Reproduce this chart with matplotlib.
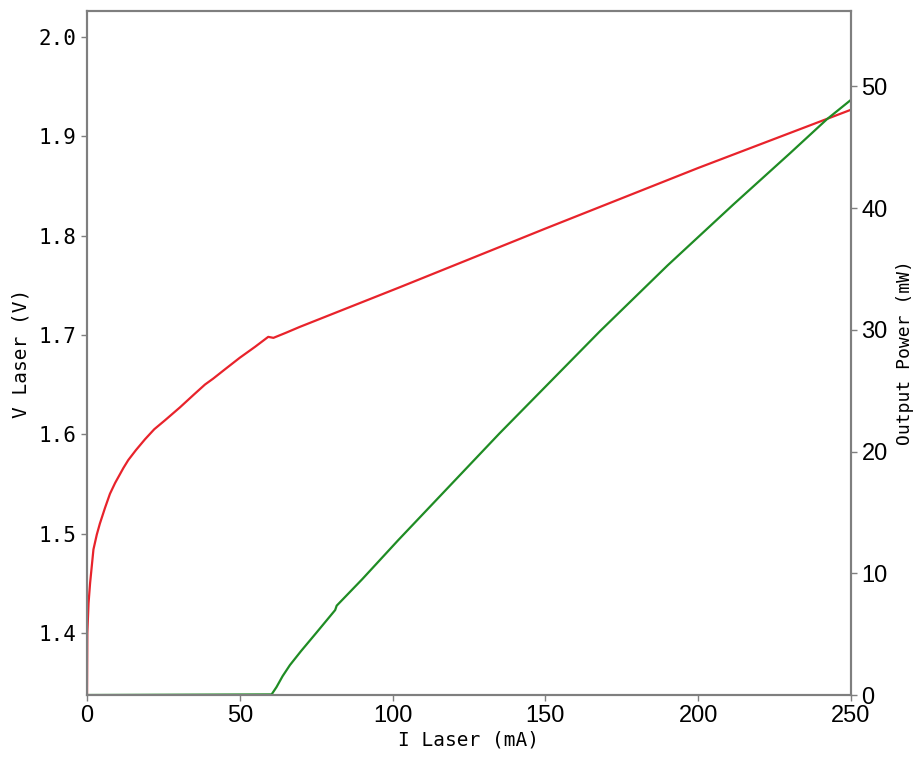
import matplotlib.pyplot as plt
from matplotlib import font_manager

# data
i_v = [0, 0.1, 0.5, 1.0, 2.1, 3.2, 4.2, 5.9, 7.5, 9.2, 11.9, 13.5, 16, 19.0,
       22, 25.5, 30.4, 35, 38.6, 41.3, 45, 50, 55, 59.3, 61, 65, 69.6,
       102.4, 150, 200, 250]
v_laser = [1.338, 1.40, 1.43, 1.45, 1.484, 1.499, 1.510, 1.526, 1.540, 1.551,
           1.566, 1.574, 1.584, 1.595, 1.605, 1.614, 1.627, 1.640, 1.650,
           1.656, 1.665, 1.677, 1.688, 1.698, 1.697, 1.702, 1.708,
           1.748, 1.807, 1.868, 1.9266]

i_p = [0, 60.4, 62, 64, 66.4, 70, 75, 81.2, 81.7, 90, 101.9, 135, 167.9, 190,
       211.5, 230, 242.1, 250]
p_out = [0, 0.05, 0.65, 1.55, 2.46, 3.6, 5.1, 6.98, 7.34, 9.5, 12.74, 21.5,
         29.9, 35.3, 40.3, 44.5, 47.3, 48.9]

v_ticks = [1.4, 1.5, 1.6, 1.7, 1.8, 1.9, 2.0]
p_ticks = [0, 10, 20, 30, 40, 50]
i_ticks = [0, 50, 100, 150, 200, 250]

names = {f.name for f in font_manager.fontManager.ttflist}
narrow = 'Liberation Sans Narrow' if 'Liberation Sans Narrow' in names else 'Liberation Sans'
mono = 'DejaVu Sans Mono'
spine_col = '#7f7f7f'

fig = plt.figure(figsize=(9.17, 7.63), dpi=100)
ax = fig.add_axes([0.0949, 0.0891, 0.8331, 0.8965])
ax2 = ax.twinx()

ax.plot(i_v, v_laser, color='#e8232b', lw=1.6)
ax2.plot(i_p, p_out, color='#1f8c24', lw=1.6)

ax.set_xlim(0, 250)
ax.set_ylim(1.3375, 2.026)
ax2.set_ylim(0, 56.2)

ax.set_xticks(i_ticks)
ax.set_yticks(v_ticks)
ax2.set_yticks(p_ticks)
ax.set_yticklabels([f'{v:.1f}' for v in v_ticks], family=mono, fontsize=15)
ax.set_xticklabels([str(t) for t in i_ticks], family=narrow, fontsize=17)
ax2.set_yticklabels([str(t) for t in p_ticks], family=narrow, fontsize=17)

ax.set_xlabel('I Laser (mA)', family=mono, fontsize=14, labelpad=2)
ax.set_ylabel('V Laser (V)', family=mono, fontsize=14, labelpad=6)
ax2.set_ylabel('Output Power (mW)', family=mono, fontsize=13, labelpad=6)

for a in (ax, ax2):
    for s in a.spines.values():
        s.set_color(spine_col)
        s.set_linewidth(1.5)
    a.tick_params(colors=spine_col, labelcolor='black', length=4, width=1)

fig.savefig('out.png', dpi=100)
